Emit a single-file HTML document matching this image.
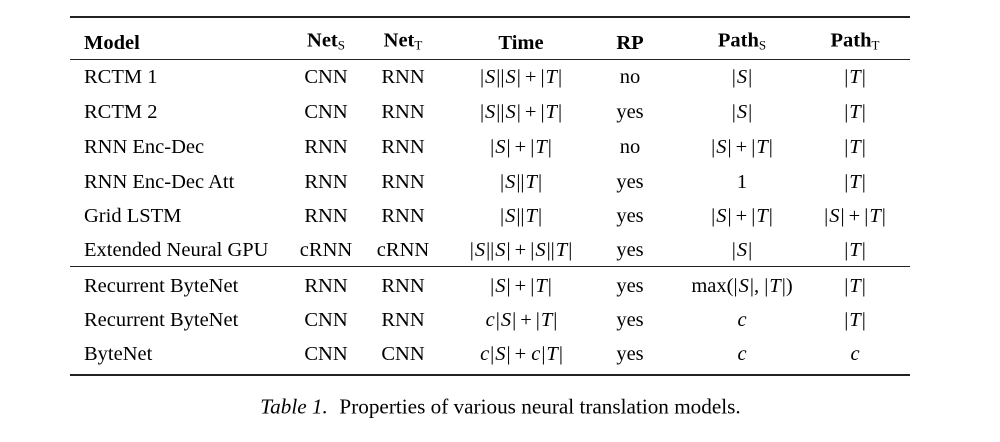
<!DOCTYPE html>
<html><head><meta charset="utf-8"><style>
body{margin:0;width:1000px;height:442px;background:#fff;font-family:"Liberation Serif",serif;color:#000;position:relative;overflow:hidden}
.r{position:absolute;left:70px;width:840px;background:#222}
.c{position:absolute;font-size:20.5px;line-height:22px;white-space:nowrap;transform:translate(-50%,-50%)}
.l{transform:translate(0,-50%)}
.h{font-weight:bold}
i{font-style:italic;padding:0 1px}
.p{padding:0 4px}
sub{font-size:13px;vertical-align:-3px;font-weight:normal}
#cap{position:absolute;left:500px;top:407px;transform:translate(-50%,-50%);font-size:21.2px;white-space:nowrap}
</style></head><body>
<div class="r" style="top:16px;height:2px"></div>
<div class="r" style="top:59px;height:1px"></div>
<div class="r" style="top:266px;height:1px"></div>
<div class="r" style="top:374px;height:2px"></div>
<div id="t"></div>
<div id="cap"><i>Table 1.</i>&nbsp; Properties of various neural translation models.</div>
<script>
const xs=[84,326,403,521,630,742,855];
const headers=['Model','Net<sub>S</sub>','Net<sub>T</sub>','Time','RP','Path<sub>S</sub>','Path<sub>T</sub>'];
const S='|<i>S</i>|',T='|<i>T</i>|',P='<span class="p">+</span>';
const rows=[
['RCTM 1','CNN','RNN',S+S+P+T,'no',S,T],
['RCTM 2','CNN','RNN',S+S+P+T,'yes',S,T],
['RNN Enc-Dec','RNN','RNN',S+P+T,'no',S+P+T,T],
['RNN Enc-Dec Att','RNN','RNN',S+T,'yes','1',T],
['Grid LSTM','RNN','RNN',S+T,'yes',S+P+T,S+P+T],
['Extended Neural GPU','cRNN','cRNN',S+S+P+S+T,'yes',S,T],
['Recurrent ByteNet','RNN','RNN',S+P+T,'yes','max('+S+', '+T+')',T],
['Recurrent ByteNet','CNN','RNN','<i>c</i>'+S+P+T,'yes','<i>c</i>',T],
['ByteNet','CNN','CNN','<i>c</i>'+S+P+'<i>c</i>'+T,'yes','<i>c</i>','<i>c</i>']];
const ys=[77,112,147,182,216,250,286,320,354];
const t=document.getElementById('t');
function cell(html,x,y,cls,name){const d=document.createElement('div');d.className='c '+cls;d.style.left=x+'px';d.style.top=y+'px';d.innerHTML=html;


t.appendChild(d);}
headers.forEach((h,i)=>cell(h,xs[i],43,'h'+(i==0?' l':''),'header-cell'));
rows.forEach((r,j)=>r.forEach((v,i)=>cell(v,xs[i],ys[j],i==0?'l':'','table-cell')));
</script>
</body></html>
